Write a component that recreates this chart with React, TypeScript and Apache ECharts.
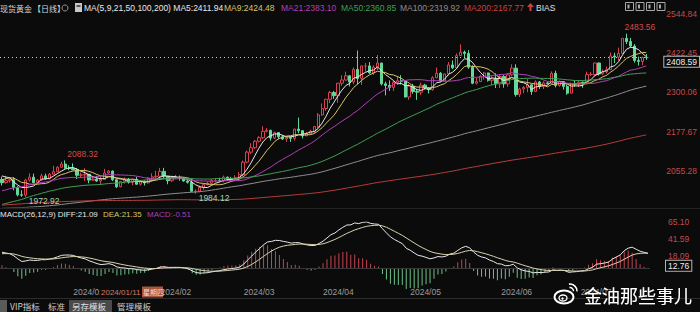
import React, { useEffect, useRef } from "react";
import * as echarts from "echarts";

// ---------- data ----------
const dates = [
  "2023/12/05","2023/12/06","2023/12/07","2023/12/08","2023/12/11","2023/12/12","2023/12/13","2023/12/14","2023/12/15",
  "2023/12/18","2023/12/19","2023/12/20","2023/12/21","2023/12/22","2023/12/26","2023/12/27","2023/12/28","2023/12/29",
  "2024/01/02","2024/01/03","2024/01/04","2024/01/05","2024/01/08","2024/01/09","2024/01/10","2024/01/11","2024/01/12",
  "2024/01/15","2024/01/16","2024/01/17","2024/01/18","2024/01/19","2024/01/22","2024/01/23","2024/01/24","2024/01/25",
  "2024/01/26","2024/01/29","2024/01/30","2024/01/31",
  "2024/02/01","2024/02/02","2024/02/05","2024/02/06","2024/02/07","2024/02/08","2024/02/09","2024/02/12","2024/02/13",
  "2024/02/14","2024/02/15","2024/02/16","2024/02/19","2024/02/20","2024/02/21","2024/02/22","2024/02/23","2024/02/26",
  "2024/02/27","2024/02/28","2024/02/29",
  "2024/03/01","2024/03/04","2024/03/05","2024/03/06","2024/03/07","2024/03/08","2024/03/11","2024/03/12","2024/03/13",
  "2024/03/14","2024/03/15","2024/03/18","2024/03/19","2024/03/20","2024/03/21","2024/03/22","2024/03/25","2024/03/26",
  "2024/03/27","2024/03/28",
  "2024/04/01","2024/04/02","2024/04/03","2024/04/04","2024/04/05","2024/04/08","2024/04/09","2024/04/10","2024/04/11",
  "2024/04/12","2024/04/15","2024/04/16","2024/04/17","2024/04/18","2024/04/19","2024/04/22","2024/04/23","2024/04/24",
  "2024/04/25","2024/04/26","2024/04/29","2024/04/30",
  "2024/05/01","2024/05/02","2024/05/03","2024/05/06","2024/05/07","2024/05/08","2024/05/09","2024/05/10","2024/05/13",
  "2024/05/14","2024/05/15","2024/05/16","2024/05/17","2024/05/20","2024/05/21","2024/05/22","2024/05/23","2024/05/24",
  "2024/05/27","2024/05/28","2024/05/29","2024/05/30","2024/05/31",
  "2024/06/03","2024/06/04","2024/06/05","2024/06/06","2024/06/07","2024/06/10","2024/06/11","2024/06/12","2024/06/13",
  "2024/06/14","2024/06/17","2024/06/18","2024/06/19","2024/06/20","2024/06/21","2024/06/24","2024/06/25","2024/06/26",
  "2024/06/27","2024/06/28",
  "2024/07/01","2024/07/02","2024/07/03","2024/07/04","2024/07/05","2024/07/08","2024/07/09","2024/07/10","2024/07/11",
  "2024/07/12","2024/07/15","2024/07/16","2024/07/17","2024/07/18","2024/07/19","2024/07/22","2024/07/23","2024/07/24",
];

// [open, high, low, close]
const candles: number[][] = [
  [2029,2038,2010,2019],[2019,2040,2016,2025],[2025,2035,2019,2028],[2028,2036,1995,2004],[2004,2008,1976,1981],
  [1981,1995,1975,1980],[1980,2031,1972.92,2027],[2027,2048,2022,2036],[2036,2047,2016,2019],[2019,2030,2016,2027],
  [2027,2047,2024,2040],[2040,2047,2028,2031],[2031,2049,2029,2045],[2045,2071,2045,2053],[2053,2070,2052,2067],
  [2067,2084,2065,2077],[2077,2088.32,2062,2065],[2065,2073,2058,2063],
  [2063,2079,2058,2059],[2059,2064,2030,2042],[2042,2050,2034,2043],[2043,2064,2024,2045],[2045,2046,2017,2027],
  [2027,2040,2025,2030],[2030,2040,2021,2024],[2024,2039,2013,2029],[2029,2062,2029,2049],[2049,2058,2047,2055],
  [2055,2057,2024,2028],[2028,2030,2002,2006],[2006,2024,2005,2023],[2023,2035,2016,2029],[2029,2033,2016,2021],
  [2021,2031,2011,2029],[2029,2037,2012,2014],[2014,2023,2010,2021],[2021,2026,2010,2018],[2018,2036,2016,2033],
  [2033,2048,2030,2037],[2037,2056,2032,2039],
  [2039,2065,2036,2054],[2054,2065,2030,2039],[2039,2040,2014,2025],[2025,2040,2021,2035],[2035,2043,2030,2035],
  [2035,2041,2025,2034],[2034,2036,2022,2024],[2024,2029,2016,2020],[2020,2032,1990,1992],[1992,1998,1984.12,1992],
  [1992,2010,1989,2004],[2004,2016,1996,2013],[2013,2022,2010,2017],[2017,2031,2013,2025],[2025,2033,2020,2025],
  [2025,2034,2020,2024],[2024,2041,2020,2036],[2036,2038,2025,2031],[2031,2037,2025,2030],[2030,2042,2024,2034],
  [2034,2052,2032,2044],
  [2044,2088,2039,2083],[2083,2119,2079,2114],[2114,2142,2108,2128],[2128,2152,2124,2148],[2148,2164,2144,2159],
  [2159,2195,2155,2179],[2179,2189,2176,2182],[2182,2184,2150,2158],[2158,2178,2155,2175],[2175,2175,2154,2162],
  [2162,2168,2152,2155],[2155,2164,2146,2160],[2160,2163,2146,2157],[2157,2187,2150,2186],[2186,2222,2173,2181],
  [2181,2183,2157,2165],[2165,2177,2164,2172],[2172,2184,2169,2179],[2179,2195,2174,2194],[2194,2236,2188,2230],
  [2230,2266,2228,2250],[2250,2280,2243,2279],[2279,2305,2267,2300],[2300,2305,2280,2290],[2290,2330,2268,2329],
  [2329,2354,2321,2339],[2339,2365,2337,2352],[2352,2354,2319,2333],[2333,2378,2326,2372],[2372,2431,2326,2344],
  [2344,2384,2324,2383],[2383,2392,2365,2383],[2383,2395,2359,2361],[2361,2385,2355,2379],[2379,2417,2370,2392],
  [2392,2392,2322,2327],[2327,2334,2291,2322],[2322,2338,2305,2316],[2316,2336,2305,2332],[2332,2352,2326,2337],
  [2337,2354,2325,2335],[2335,2338,2285,2286],
  [2286,2326,2277,2320],[2320,2327,2296,2303],[2303,2311,2277,2301],[2301,2331,2292,2323],[2323,2327,2309,2314],
  [2314,2317,2297,2309],[2309,2351,2306,2346],[2346,2378,2345,2360],[2360,2364,2333,2336],[2336,2359,2335,2358],
  [2358,2395,2353,2386],[2386,2400,2373,2377],[2377,2422,2376,2415],[2415,2450,2414,2426],[2426,2431,2407,2422],
  [2422,2432,2374,2379],[2379,2385,2326,2329],[2329,2346,2325,2334],[2334,2355,2333,2351],[2351,2364,2340,2361],
  [2361,2362,2334,2338],[2338,2352,2323,2343],[2343,2360,2314,2327],
  [2327,2354,2314,2350],[2350,2354,2315,2327],[2327,2359,2318,2355],[2355,2388,2351,2376],[2376,2388,2287,2294],
  [2294,2315,2286,2311],[2311,2320,2298,2316],[2316,2342,2301,2324],[2324,2325,2293,2303],[2303,2338,2302,2333],
  [2333,2336,2311,2319],[2319,2335,2311,2330],[2330,2334,2325,2328],[2328,2366,2328,2360],[2360,2368,2316,2322],
  [2322,2337,2318,2334],[2334,2335,2309,2319],[2319,2325,2293,2298],[2298,2331,2297,2327],[2327,2339,2318,2326],
  [2326,2339,2318,2332],[2332,2334,2315,2330],[2330,2365,2327,2356],[2356,2364,2352,2356],[2356,2393,2350,2392],
  [2392,2393,2353,2358],[2358,2372,2354,2364],[2364,2381,2359,2371],[2371,2425,2370,2414],[2414,2424,2392,2410.6],
  [2410.6,2440,2400,2422],[2422,2469,2421,2469],[2469,2483.56,2451,2459],[2459,2470,2440,2445],[2445,2451,2393,2400],
  [2400,2412,2384,2397.1],[2397.1,2412,2385,2409],[2409,2420,2402,2408.59],
];

// daily closes before the first visible candle (feed the moving averages and MACD)
const priorCloses = [
  1817,1827,
  1836,1836,1856,1846,1813,1814,1831,1868,1913,1904,1918,1919,1989,1978,1940,1970,1993,1978,1956,1973,1964,1980,1969,
  1984,2020,2021,2007,2007,1990,2003,2015,2040,2004,1995,2005,1994,2004,1983,1989,1997,1989,1988,1990,
  1983,2016,2039,2050,2017,2021,2034,2030,2015,2011,2017,1989,1982,1957,1978,1971,1975,1957,1941,1946,1943,1959,1963,
  1978,1948,1961,1963,1940,1965,1961,1957,1943,1942,1958,1957,1950,1936,1932,1913,1921,1923,1914,1907,1908,1919,
  1921,1925,1915,1911,1925,1925,1932,1957,1961,1955,1955,1979,1977,1969,1962,1955,1965,1972,1946,1959,1965,
  1944,1934,1934,1943,1936,1925,1915,1913,1914,1907,1901,1891,1889,1889,1894,1898,1915,1917,1914,1920,1937,1942,1940,
  1940,1939,1926,1916,1919,1919,1922,1913,1907,1910,1924,1934,1931,1930,1920,1925,1916,1900,1874,1864,1849,
  1828,1822,1822,1820,1833,1861,1861,1874,1868,1932,1919,1923,1947,1974,1981,1973,1971,1979,1985,2006,1996,1983,
  1982,1985,1992,1978,1969,1950,1958,1940,1946,1963,1959,1981,1980,1978,2007,1990,1992,2002,2014,2041,2044,2036,
  2072,2029,
];

const maPeriods = [5, 9, 21, 50, 100, 200];
const maLegendValues = ["2411.94", "2424.48", "2383.10", "2360.85", "2319.92", "2167.77"];
const priceTicks = [2055.28, 2177.67, 2300.06, 2422.45, 2544.84];
const macdTicks = [18.09, 41.59, 65.1];
const lastPrice = 2408.59;
const macdMarker = 12.76;
const macdLegend = { diff: "21.09", dea: "21.35", macd: "-0.51" };
const extremes: [string, number][] = [
  ["2024/07/17", 2483.56],
  ["2023/12/28", 2088.32],
  ["2023/12/13", 1972.92],
  ["2024/02/14", 1984.12],
];
const crosshairDate = "2024/01/11";
const crosshairWeekday = "星期四";

// ---------- derived ----------
const closes = candles.map((c) => c[3]);
const allCloses = [...priorCloses, ...closes];
const off = priorCloses.length;

function movingAverage(n: number) {
  return candles.map((_, i) => {
    const end = off + i;
    if (end - n + 1 < 0) return null;
    let s = 0;
    for (let k = end - n + 1; k <= end; k++) s += allCloses[k];
    return +(s / n).toFixed(2);
  });
}

const diffArr: number[] = [];
const deaArr: number[] = [];
const barArr: number[] = [];
{
  let e12 = allCloses[0];
  let e26 = allCloses[0];
  let dea = 0;
  allCloses.forEach((c, i) => {
    e12 = e12 + ((c - e12) * 2) / 13;
    e26 = e26 + ((c - e26) * 2) / 27;
    const d = e12 - e26;
    dea = dea + ((d - dea) * 2) / 10;
    if (i >= off) {
      diffArr.push(+d.toFixed(2));
      deaArr.push(+dea.toFixed(2));
      barArr.push(+(2 * (d - dea)).toFixed(2));
    }
  });
}

const monthStart = new Set<number>();
dates.forEach((d, i) => {
  if (i > 0 && d.slice(0, 7) !== dates[i - 1].slice(0, 7)) monthStart.add(i);
});

// ---------- styles ----------
const LATIN = '"Liberation Sans", "Noto Sans CJK SC", sans-serif';
const CJK = '"Noto Sans CJK SC", "Liberation Sans", sans-serif';
const BG = "#0b0b0b";
const UP = "#d8434f";
const DOWN = "#62d99b";
const AXIS_RED = "#c44a4a";
const maColors = ["#e8e8e8", "#d6c56c", "#b23fb8", "#3f9f56", "#8e8e8e", "#b83c3c"];
const HIGH_C = "#d24c4c";
const LOW_C = "#a9d6b4";
const extremeOffsets = [[-2, -7], [2, -6], [3, 4], [3, 4]];

const txt = (x: number, y: number, text: string, fill: string, size = 8.5, family = LATIN, extra: any = {}) => ({
  type: "text",
  x,
  y,
  silent: true,
  z: 100,
  style: { text, fill, font: `${size}px ${family}`, verticalAlign: "middle", align: "left", ...extra },
});

function buildOption(): any {
  const boxLabel = (text: string, dy: number) => ({
    show: true,
    position: "right",
    distance: 18,
    offset: [0, dy],
    formatter: text,
    color: "#eeeeee",
    fontSize: 8.5,
    lineHeight: 9,
    fontFamily: LATIN,
    backgroundColor: BG,
    borderColor: "#b5b5b5",
    borderWidth: 1,
    padding: [1, 2, 0, 2],
  });

  const markPointData: any[] = extremes.map(([d, v], i) => ({
    coord: [d, v],
    value: v,
    label: {
      show: true,
      position: "right",
      distance: 0,
      offset: extremeOffsets[i],
      formatter: v.toFixed(2),
      color: i < 2 ? HIGH_C : LOW_C,
      fontSize: 8.5,
      fontFamily: LATIN,
    },
  }));
  markPointData.push({
    coord: [dates[dates.length - 1], lastPrice],
    value: lastPrice,
    label: boxLabel(lastPrice.toFixed(2), 4),
  });

  const legendTop = [
    txt(0, 8, "现货黄金", "#d6d6d6", 8, CJK),
    txt(33, 8, "【日线】", "#d6d6d6", 8, CJK),
    txt(84, 8, "MA(5,9,21,50,100,200) MA5:" + maLegendValues[0], maColors[0]),
    txt(224, 8, "MA9:" + maLegendValues[1], maColors[1]),
    txt(281, 8, "MA21:" + maLegendValues[2], maColors[2]),
    txt(341, 8, "MA50:" + maLegendValues[3], maColors[3]),
    txt(400, 8, "MA100:" + maLegendValues[4], maColors[4]),
    txt(464, 8, "MA200:" + maLegendValues[5], "#c84040"),
    txt(536, 8, "BIAS", "#e0e0e0"),
  ];

  const icons: any[] = [
    { type: "circle", shape: { cx: 65, cy: 8, r: 3 }, style: { fill: "none", stroke: "#9a9a9a", lineWidth: 1 }, silent: true },
    { type: "rect", shape: { x: 75, y: 3, width: 7, height: 9 }, style: { fill: "#c8c8c8" }, silent: true },
    { type: "rect", shape: { x: 76.5, y: 5, width: 4, height: 2 }, style: { fill: "#555" }, silent: true },
    {
      type: "polygon",
      shape: { points: [[530.5, 3], [527, 7], [529.5, 7], [529.5, 11], [531.5, 11], [531.5, 7], [534, 7]] },
      style: { fill: "#d04040" },
      silent: true,
    },
  ];
  for (let i = 0; i < 4; i++) {
    icons.push({
      type: "rect",
      shape: { x: 625.5 + i * 10.5, y: 2.5, width: 8, height: 8 },
      style: { fill: "none", stroke: "#a8a8a8", lineWidth: 1 },
      silent: true,
    });
    icons.push({
      type: "rect",
      shape: { x: 627.5 + i * 10.5, y: 4.5, width: 2, height: 4 },
      style: { fill: "#a8a8a8" },
      silent: true,
    });
  }

  const lines: any[] = [
    { type: "line", shape: { x1: 0, y1: 208.5, x2: 700, y2: 208.5 }, style: { stroke: "#222", lineWidth: 1 }, silent: true },
    { type: "line", shape: { x1: 0, y1: 298.5, x2: 700, y2: 298.5 }, style: { stroke: "#2c2c2c", lineWidth: 1 }, silent: true },
  ];

  const macdLegendEls = [
    txt(0, 214, "MACD(26,12,9) DIFF:" + macdLegend.diff, "#e6e6e6", 8),
    txt(103, 214, "DEA:" + macdLegend.dea, "#d6c56c", 8),
    txt(147, 214, "MACD:" + macdLegend.macd, "#a93fb3", 8),
  ];

  const crosshair: any[] = [
    { type: "rect", shape: { x: 100, y: 286, width: 63, height: 12 }, style: { fill: BG }, z: 99, silent: true },
    txt(101, 292, crosshairDate, "#d47b67", 8),
    { type: "rect", shape: { x: 142, y: 286.5, width: 21, height: 11 }, style: { fill: "#a9553e" }, z: 99, silent: true },
    txt(143, 292, crosshairWeekday, "#f4dccf", 7, CJK),
  ];

  const tabs: any[] = [
    { type: "rect", shape: { x: 0, y: 300, width: 7, height: 12 }, style: { fill: "#5a5a5a" }, silent: true },
    txt(10, 306, "VIP指标", "#d0d0d0", 8.5, CJK),
    txt(48, 306, "标准", "#c8c8c8", 8.5, CJK),
    { type: "rect", shape: { x: 69, y: 300, width: 43, height: 12 }, style: { fill: "#4a4a4a" }, silent: true },
    txt(72, 306, "另存模板", "#e0e0e0", 8.5, CJK),
    txt(117, 306, "管理模板", "#c8c8c8", 8.5, CJK),
  ];

  const watermark: any[] = [
    { type: "ellipse", shape: { cx: 564, cy: 297, rx: 9.5, ry: 6.5 }, style: { fill: "none", stroke: "#ffffff", lineWidth: 2 }, z: 100, silent: true },
    { type: "ellipse", shape: { cx: 563, cy: 298, rx: 4, ry: 3 }, style: { fill: "none", stroke: "#ffffff", lineWidth: 1.3 }, z: 100, silent: true },
    { type: "circle", shape: { cx: 562.5, cy: 298.5, r: 1.2 }, style: { fill: "#ffffff" }, z: 100, silent: true },
    { type: "arc", shape: { cx: 570, cy: 291, r: 7, startAngle: -Math.PI * 0.55, endAngle: 0.05 }, style: { stroke: "#ffffff", lineWidth: 1.6, fill: "none" }, z: 100, silent: true },
    { type: "arc", shape: { cx: 570, cy: 291, r: 3.5, startAngle: -Math.PI * 0.55, endAngle: 0.05 }, style: { stroke: "#ffffff", lineWidth: 1.4, fill: "none" }, z: 100, silent: true },
    txt(584, 295, "金油那些事儿", "#ffffff", 18, CJK, { textShadowColor: "rgba(0,0,0,0.8)", textShadowBlur: 2 }),
  ];

  return {
    animation: false,
    backgroundColor: BG,
    grid: [
      { left: 0, right: 50, top: 14, height: 193 },
      { left: 0, right: 50, top: 222, height: 67 },
    ],
    xAxis: [
      {
        type: "category",
        gridIndex: 0,
        data: dates,
        boundaryGap: true,
        axisLine: { show: false },
        axisTick: { show: false },
        axisLabel: { show: false },
        splitLine: { show: false },
      },
      {
        type: "category",
        gridIndex: 1,
        data: dates,
        boundaryGap: true,
        axisLine: { show: false },
        axisTick: { show: false },
        splitLine: { show: false },
        axisLabel: {
          interval: (idx: number) => monthStart.has(idx),
          formatter: (v: string) => v.slice(0, 7),
          align: "left",
          verticalAlign: "middle",
          margin: 3,
          color: "#9c9c9c",
          fontSize: 8.5,
          fontFamily: LATIN,
        },
      },
    ],
    yAxis: [
      {
        type: "value",
        gridIndex: 0,
        position: "right",
        min: 1943,
        max: 2544.84,
        splitLine: { show: false },
        axisLine: { show: false },
        axisTick: { show: false },
        axisLabel: {
          customValues: priceTicks,
          formatter: (v: number) => v.toFixed(2),
          color: AXIS_RED,
          fontSize: 8.5,
          fontFamily: LATIN,
          margin: 18,
        },
      },
      {
        type: "value",
        gridIndex: 1,
        position: "right",
        min: -28.92,
        max: 65.1,
        splitLine: { show: false },
        axisLine: { show: false },
        axisTick: { show: false },
        axisLabel: {
          customValues: macdTicks,
          formatter: (v: number) => v.toFixed(2),
          color: AXIS_RED,
          fontSize: 8.5,
          lineHeight: 9,
          fontFamily: LATIN,
          margin: 18,
        },
      },
    ],
    series: [
      {
        type: "candlestick",
        xAxisIndex: 0,
        yAxisIndex: 0,
        barWidth: 2.8,
        data: candles.map((c) => [c[0], c[3], c[2], c[1]]),
        itemStyle: { color: BG, color0: DOWN, borderColor: UP, borderColor0: DOWN, borderWidth: 1 },
        markLine: {
          silent: true,
          symbol: ["none", "none"],
          label: { show: false },
          lineStyle: { color: "#cfcfcf", type: [1, 3], width: 1 },
          data: [{ yAxis: lastPrice }],
        },
        markPoint: {
          symbol: "circle",
          symbolSize: 0,
          itemStyle: { color: "transparent" },
          data: markPointData,
        },
        z: 3,
      },
      ...maPeriods.map((p, i) => ({
        type: "line",
        name: "MA" + p,
        xAxisIndex: 0,
        yAxisIndex: 0,
        data: movingAverage(p),
        showSymbol: false,
        symbol: "none",
        lineStyle: { color: maColors[i], width: 1 },
        z: 4,
      })),
      {
        type: "bar",
        xAxisIndex: 1,
        yAxisIndex: 1,
        data: barArr,
        barWidth: 1,
        itemStyle: { color: (p: any) => (p.value >= 0 ? "#c34552" : "#6cc48a") },
        markLine: {
          silent: true,
          symbol: ["none", "none"],
          label: { show: false },
          lineStyle: { color: "#383838", type: "solid", width: 1 },
          data: [{ yAxis: 0 }],
        },
      },
      {
        type: "line",
        xAxisIndex: 1,
        yAxisIndex: 1,
        data: diffArr,
        showSymbol: false,
        symbol: "none",
        lineStyle: { color: "#e8e8e8", width: 1 },
        markPoint: {
          symbol: "circle",
          symbolSize: 0,
          itemStyle: { color: "transparent" },
          data: [{ coord: [dates[dates.length - 1], macdMarker], value: macdMarker, label: boxLabel(macdMarker.toFixed(2), 6.5) }],
        },
        z: 5,
      },
      {
        type: "line",
        xAxisIndex: 1,
        yAxisIndex: 1,
        data: deaArr,
        showSymbol: false,
        symbol: "none",
        lineStyle: { color: "#d9d2b0", width: 1 },
        z: 5,
      },
    ],
    graphic: { elements: [...lines, ...legendTop, ...icons, ...macdLegendEls, ...crosshair, ...tabs, ...watermark] },
  };
}

export default function App() {
  const ref = useRef<HTMLDivElement>(null);
  useEffect(() => {
    document.body.style.margin = "0";
    document.body.style.background = BG;
    const chart = echarts.init(ref.current!, undefined, { renderer: "svg" });
    chart.setOption(buildOption());
    return () => chart.dispose();
  }, []);
  return <div ref={ref} style={{ width: 700, height: 312, position: "absolute", left: 0, top: 0 }} />;
}
